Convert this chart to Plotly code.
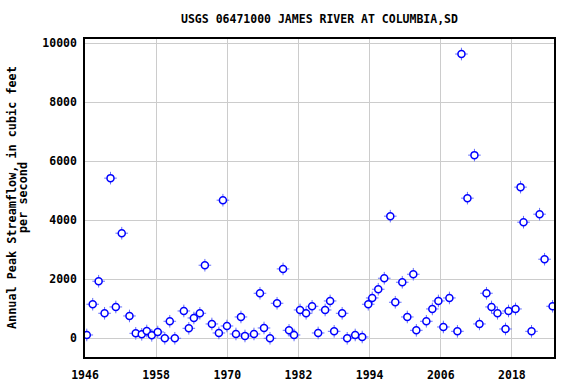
import plotly.graph_objects as go

years = [1946.3, 1947.3, 1948.3, 1949.3, 1950.3, 1951.2, 1952.2, 1953.5, 1954.56, 1955.57,
         1956.42, 1957.26, 1958.27, 1959.46, 1960.3, 1961.15, 1962.67, 1963.51, 1964.36, 1965.37,
         1966.22, 1967.4, 1968.58, 1969.26, 1969.94, 1971.46, 1972.3, 1972.98,
         1974.5, 1975.51, 1976.19, 1977.2, 1978.39, 1979.4, 1980.41, 1981.26, 1982.27, 1983.29,
         1984.3, 1985.32, 1986.5, 1987.34, 1988.02, 1989.37, 1990.22, 1991.57, 1992.75, 1993.77,
         1994.44, 1995.46, 1996.47, 1997.49, 1998.33, 1999.51, 2000.36,
         2001.37, 2001.88, 2003.57, 2004.58, 2005.6, 2006.44, 2007.46, 2008.81, 2009.49, 2010.5,
         2011.68, 2012.53, 2013.71, 2014.56, 2015.57, 2016.92, 2017.43, 2018.61, 2019.46, 2019.96,
         2021.31, 2022.67, 2023.51, 2024.86]
peaks = [112, 1153, 1932, 847, 5424, 1061, 3559, 756, 168, 134,
         247, 100, 213, 0, 576, 0, 925, 338, 688, 847,
         2474, 485, 180, 4677, 417, 146, 722, 78,
         146, 1525, 349, 0, 1186, 2349, 270, 112, 959, 847,
         1084, 180, 959, 1264, 236, 847, 0, 112, 44, 1153,
         1366, 1661, 2034, 4136, 1220, 1898, 722,
         2169, 270, 576, 993, 1264, 383, 1366, 236, 9627, 4746,
         6203, 485, 1525, 1061, 847, 315, 925, 993, 5119, 3932,
         236, 4203, 2678, 1084]

x_ticks = [1946, 1958, 1970, 1982, 1994, 2006, 2018]
y_ticks = [0, 2000, 4000, 6000, 8000, 10000]
y_title_lines = ["Annual Peak Streamflow, in cubic feet", "per second"]

MONO = "DejaVu Sans Mono"
W, H = 576, 384
ML, MR, MT, MB = 85, 22, 39, 27
PW = W - ML - MR
PH = H - MT - MB

fig = go.Figure()
fig.add_trace(go.Scatter(
    x=years, y=peaks, mode="markers", hoverinfo="skip",
    marker=dict(symbol="cross-thin-open", size=9, line=dict(color="#0000ff", width=1)),
    showlegend=False))
fig.add_trace(go.Scatter(
    x=years, y=peaks, mode="markers",
    marker=dict(symbol="circle", size=7, color="white", line=dict(color="#0000ff", width=1.5)),
    showlegend=False))

for line, px in zip(y_title_lines, [12, 23]):
    fig.add_annotation(
        text=f"<b>{line}</b>", xref="paper", yref="paper",
        x=(px - ML) / PW, y=0.5, xanchor="center", yanchor="middle",
        textangle=-90, showarrow=False,
        font=dict(family=MONO, size=11.8, color="black"))

fig.update_layout(
    width=W, height=H,
    margin=dict(l=ML, r=MR, t=MT, b=MB),
    paper_bgcolor="white", plot_bgcolor="white",
    title=dict(text="<b>USGS 06471000 JAMES RIVER AT COLUMBIA,SD</b>", xref="paper", x=0.5,
               xanchor="center", y=1 - 19 / H, yanchor="middle",
               font=dict(family=MONO, size=11.5, color="black")),
    xaxis=dict(range=[1946, 2025.1], tickvals=x_ticks, ticktext=[f"<b>{v}</b>" for v in x_ticks],
               showgrid=True, gridcolor="#cccccc", gridwidth=1, zeroline=False, automargin=False,
               showline=True, linecolor="black", linewidth=1.5, mirror=True, ticks="",
               ticklabelstandoff=6,
               tickfont=dict(family=MONO, size=11.5, color="black")),
    yaxis=dict(range=[-634, 10136], tickvals=y_ticks, ticktext=[f"<b>{v}</b>" for v in y_ticks],
               showgrid=True, gridcolor="#cccccc", gridwidth=1, zeroline=False, automargin=False,
               showline=True, linecolor="black", linewidth=1.5, mirror=True, ticks="",
               ticklabelstandoff=4,
               tickfont=dict(family=MONO, size=11.5, color="black")),
)

fig.write_html("out.html")
